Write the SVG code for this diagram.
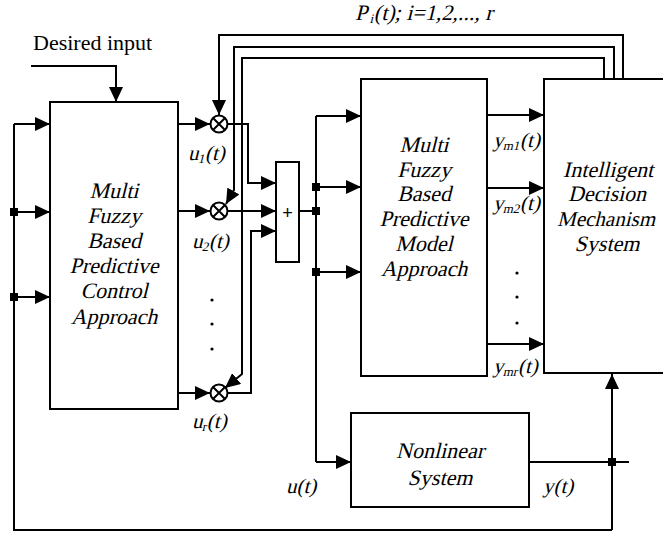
<svg xmlns="http://www.w3.org/2000/svg" width="663" height="534" viewBox="0 0 663 534">
<defs>
<marker id="ah" markerWidth="15" markerHeight="14" refX="15" refY="7" orient="auto" markerUnits="userSpaceOnUse"><path d="M0,0 L15,7 L0,14 z" fill="#000"/></marker>
<style>
.b{fill:#fff;stroke:#000;stroke-width:2}
.l{fill:none;stroke:#000;stroke-width:2}
.a{fill:none;stroke:#000;stroke-width:2;marker-end:url(#ah)}
.t{font-family:"Liberation Serif","Times New Roman",serif;font-size:22px;text-anchor:middle;fill:#000}
.s{font-family:"Liberation Serif","Times New Roman",serif;font-size:21px;fill:#000}
.sub{font-size:13px}
.j{fill:#000}
</style>
</defs>
<rect width="663" height="534" fill="#fff"/>
<g id="connectors">
<path class="a" d="M31,66 H116 V102"/>
<path class="l" d="M612,530 H14 V124"/>
<path class="a" d="M14,124 H50"/>
<path class="a" d="M14,212 H50"/>
<path class="a" d="M14,297 H50"/>
<path class="a" d="M178,124 H210"/>
<path class="a" d="M178,211 H210"/>
<path class="a" d="M178,393 H210"/>
<path class="a" d="M623,79 V35 H219 V115"/>
<path class="a" d="M614,79 V47 H234 V190 L226,204"/>
<path class="a" d="M604,79 V58 H242 V374 L225,388"/>
<path class="a" d="M228,124 H248 V183 H276"/>
<path class="a" d="M228,211 H276"/>
<path class="a" d="M228,393 H251 V231 H276"/>
<path class="l" d="M299,211 H316"/>
<path class="l" d="M316,116 V462"/>
<path class="a" d="M316,116 H361"/>
<path class="a" d="M316,187 H361"/>
<path class="a" d="M316,272 H361"/>
<path class="a" d="M316,462 H351"/>
<path class="a" d="M487,115 H544"/>
<path class="a" d="M487,188 H544"/>
<path class="a" d="M487,344 H544"/>
<path class="l" d="M529,462 H629"/>
<path class="a" d="M612,530 V374"/>
<rect class="j" x="10" y="208" width="8" height="8"/>
<rect class="j" x="10" y="293" width="8" height="8"/>
<rect class="j" x="312" y="183" width="8" height="8"/>
<rect class="j" x="312" y="207" width="8" height="8"/>
<rect class="j" x="312" y="268" width="8" height="8"/>
<rect class="j" x="608" y="458" width="8" height="8"/>
</g>
<g id="desired">
<text class="s" x="33" y="50" style="font-size:22px">Desired input</text>
</g>
<g id="controller">
<rect class="b" x="50" y="102" width="128" height="307"/>
<text class="t" transform="translate(114,198) skewX(-14)">Multi</text>
<text class="t" transform="translate(114,223) skewX(-14)">Fuzzy</text>
<text class="t" transform="translate(114,248) skewX(-14)">Based</text>
<text class="t" transform="translate(114,273) skewX(-14)">Predictive</text>
<text class="t" transform="translate(114,298) skewX(-14)">Control</text>
<text class="t" transform="translate(114,324) skewX(-14)">Approach</text>
</g>
<g id="mult1">
<circle class="b" cx="219" cy="124" r="8.5"/>
<path class="l" d="M213,118 L225,130 M225,118 L213,130" stroke-width="1.8"/>
</g>
<g id="mult2">
<circle class="b" cx="219" cy="211" r="8.5"/>
<path class="l" d="M213,205 L225,217 M225,205 L213,217" stroke-width="1.8"/>
</g>
<g id="multr">
<circle class="b" cx="219" cy="393" r="8.5"/>
<path class="l" d="M213,387 L225,399 M225,387 L213,399" stroke-width="1.8"/>
</g>
<g id="labels-u">
<text class="s" transform="translate(188,160) skewX(-14)">u<tspan class="sub" dy="3">1</tspan><tspan dy="-3">(t)</tspan></text>
<text class="s" transform="translate(192,248) skewX(-14)">u<tspan class="sub" dy="3">2</tspan><tspan dy="-3">(t)</tspan></text>
<text class="s" transform="translate(192,428) skewX(-14)">u<tspan class="sub" dy="3">r</tspan><tspan dy="-3">(t)</tspan></text>
<circle class="j" cx="212" cy="300" r="1.6"/>
<circle class="j" cx="212" cy="324" r="1.6"/>
<circle class="j" cx="212" cy="349" r="1.6"/>
</g>
<g id="sum">
<rect class="b" x="276" y="162" width="23" height="100"/>
<text x="287.5" y="219" style="font-family:'Liberation Sans',Arial,sans-serif;font-size:18px;text-anchor:middle">+</text>
</g>
<g id="model">
<rect class="b" x="361" y="79" width="126" height="297"/>
<text class="t" transform="translate(424,152) skewX(-14)">Multi</text>
<text class="t" transform="translate(424,177) skewX(-14)">Fuzzy</text>
<text class="t" transform="translate(424,201) skewX(-14)">Based</text>
<text class="t" transform="translate(424,226) skewX(-14)">Predictive</text>
<text class="t" transform="translate(424,251) skewX(-14)">Model</text>
<text class="t" transform="translate(424,276) skewX(-14)">Approach</text>
</g>
<g id="labels-y">
<text class="s" transform="translate(493,147) skewX(-14)">y<tspan class="sub" dy="3">m1</tspan><tspan dy="-3">(t)</tspan></text>
<text class="s" transform="translate(493,210) skewX(-14)">y<tspan class="sub" dy="3">m2</tspan><tspan dy="-3">(t)</tspan></text>
<text class="s" transform="translate(493,373) skewX(-14)">y<tspan class="sub" dy="3">mr</tspan><tspan dy="-3">(t)</tspan></text>
<circle class="j" cx="517" cy="273" r="1.6"/>
<circle class="j" cx="517" cy="297" r="1.6"/>
<circle class="j" cx="517" cy="323" r="1.6"/>
</g>
<g id="decision">
<rect class="b" x="544" y="79" width="130" height="294"/>
<text class="t" transform="translate(608,177) skewX(-14)">Intelligent</text>
<text class="t" transform="translate(607,201) skewX(-14)">Decision</text>
<text class="t" transform="translate(606,226) skewX(-14)" style="font-size:21px">Mechanism</text>
<text class="t" transform="translate(607,251) skewX(-14)">System</text>
</g>
<g id="plabel">
<text class="s" transform="translate(355,20) skewX(-14)" style="font-size:22px">P<tspan class="sub" dx="3" dy="3">i</tspan><tspan dy="-3">(t); i=1,2,..., r</tspan></text>
</g>
<g id="nonlinear">
<rect class="b" x="351" y="413" width="178" height="94"/>
<text class="t" transform="translate(440,458) skewX(-14)">Nonlinear</text>
<text class="t" transform="translate(440,485) skewX(-14)">System</text>
</g>
<g id="io-labels">
<text class="s" transform="translate(286,493) skewX(-14)">u(t)</text>
<text class="s" transform="translate(543,493) skewX(-14)">y(t)</text>
</g>
</svg>
